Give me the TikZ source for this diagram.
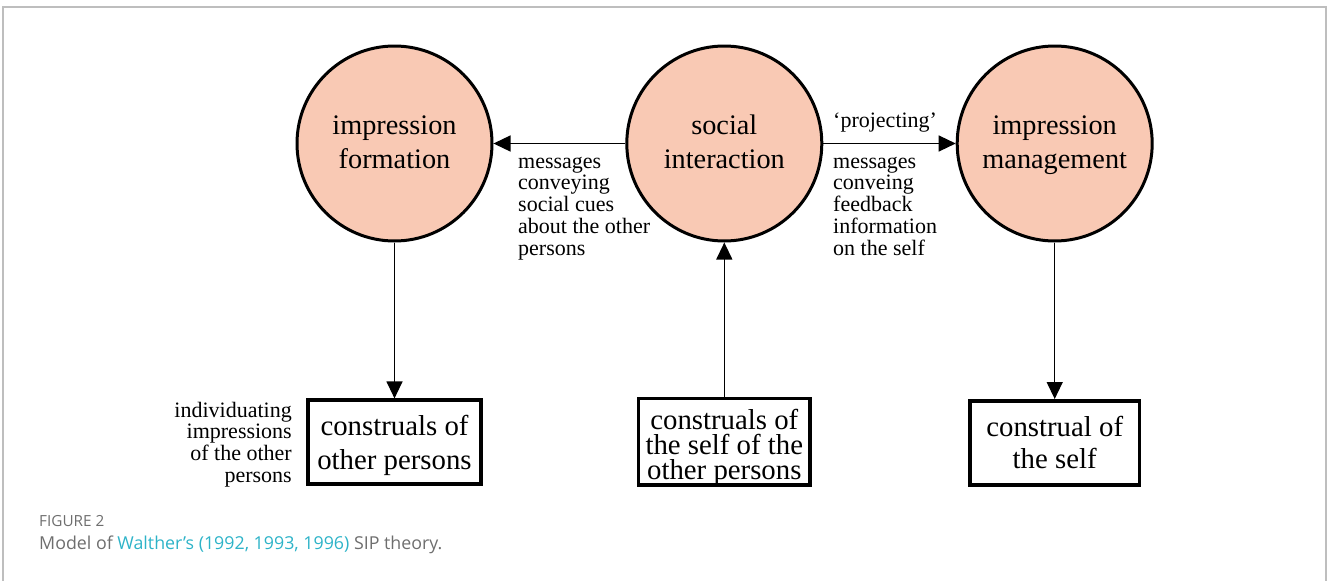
\documentclass[tikz,border=0pt]{standalone}
\usepackage{fontspec}
\setmainfont{Liberation Serif}
\newfontfamily\capfont{Open Sans}
\usetikzlibrary{arrows.meta}

\definecolor{peach}{HTML}{F9C9B4}
\definecolor{framegray}{HTML}{BEBEBE}
\definecolor{capgray}{HTML}{6E6E6E}
\definecolor{linkcyan}{HTML}{2DB3C8}

% struts that even out the vertical placement of the circle labels
\newcommand{\lowstrut}{\vrule depth3pt height0pt width0pt}
\newcommand{\highstrut}{\vrule height22.7pt depth0pt width0pt}

\begin{document}
\begin{tikzpicture}[x=1pt, y=-1pt,
  concept/.style={circle, draw=black, line width=3pt, fill=peach,
    minimum size=195pt, inner sep=0pt, align=center,
    font=\fontsize{28.3}{34}\selectfont},
  construal/.style={rectangle, draw=black, line width=3.6pt, inner sep=0pt},
  boxtext/.style={inner sep=0pt, align=center},
  flow/.style={line width=1.3pt, -{Triangle[length=17pt,width=16pt]}},
  note/.style={inner sep=0pt, font=\fontsize{22}{21.7}\selectfont},
  captext/.style={inner sep=0pt, anchor=base west, text=capgray},
]
\useasboundingbox (0,0) rectangle (1328,581);

% page frame, open at the bottom
\draw[framegray, line width=1.5pt] (3,581) -- (3,7) -- (1326,7) -- (1326,581);

% the three processes
\node[concept] (formation)  at (394.5,143.5) {impression\\formation\lowstrut};
\node[concept] (social)     at (724.3,143.5) {social\\interaction\lowstrut};
\node[concept] (management) at (1054.7,143.5) {\highstrut impression\\management};

% the three construals
\node[construal, minimum width=173pt, minimum height=84pt] (others) at (394.5,442.2) {};
\node[boxtext, font=\fontsize{28.8}{34}\selectfont] (othersText) at (394.5,445.3)
  {construals of\\other persons};

\node[construal, minimum width=171.4pt, minimum height=86.4pt] (mutual) at (724.3,441.7) {};
\node[boxtext, font=\fontsize{28.8}{25}\selectfont] (mutualText) at (724.3,447.5)
  {construals of\\the self of the\\other persons};

\node[construal, minimum width=169.7pt, minimum height=84pt] (self) at (1054.7,442.8) {};
\node[boxtext, font=\fontsize{28.8}{32.5}\selectfont] (selfText) at (1054.7,442.5)
  {construal of\\the self};

% connectors
\draw[flow] (social) -- (formation);
\draw[flow] (social) -- (management);
\draw[flow] (formation) -- (others);
\draw[flow] (mutual) -- (social);
\draw[flow] (management) -- (self);

% connector labels
\node[note, anchor=base west] (projecting) at (833,127) {‘projecting’};
\node[note, anchor=north west, align=left] (cues) at (518,152)
  {\vrule height16pt width0pt messages\\conveying\\social cues\\about the other\\persons};
\node[note, anchor=north west, align=left] (feedback) at (833,152)
  {\vrule height16pt width0pt messages\\conveing\\feedback\\information\\on the self};
\node[note, anchor=north east, align=right] (individuating) at (292,401)
  {\vrule height16pt width0pt individuating\\impressions\\of the other\\persons};

% caption
\node[captext, font=\capfont\fontsize{15.3}{18}\selectfont] (figlabel) at (39,526) {FIGURE 2};
\node[captext, font=\capfont\fontsize{17.8}{21}\selectfont] (caption) at (39,549)
  {Model of \textcolor{linkcyan}{Walther’s (1992, 1993, 1996)} SIP theory.};
\end{tikzpicture}
\end{document}
